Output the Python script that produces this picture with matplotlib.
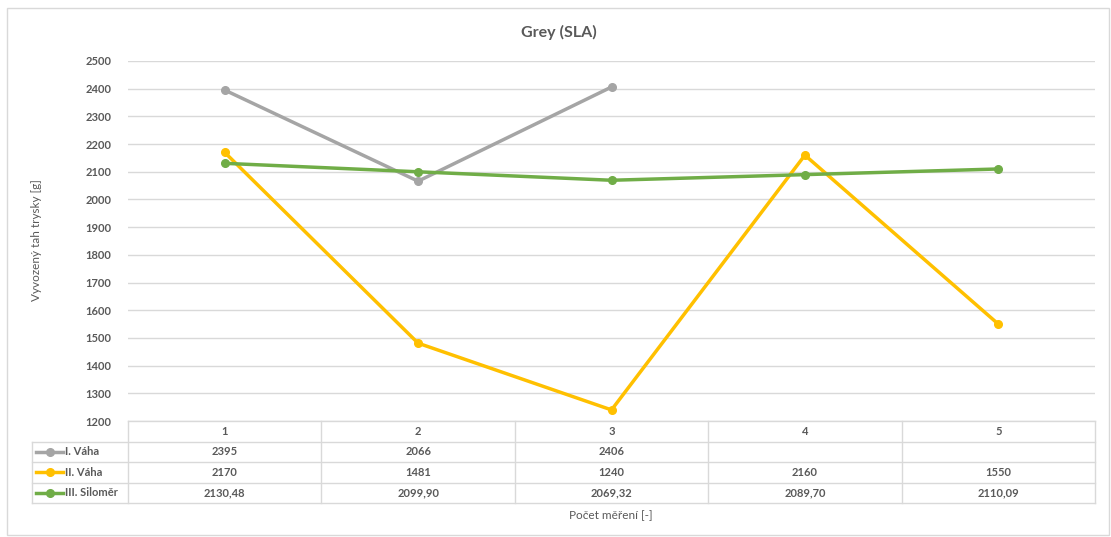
import numpy as np
import matplotlib
matplotlib.use("Agg")
import matplotlib.pyplot as plt
from matplotlib.patches import Rectangle
from matplotlib.lines import Line2D

plt.rcParams['font.family'] = ['Lato', 'DejaVu Sans']

# measurement number on the x axis
mereni = [1, 2, 3, 4, 5]
vaha1 = [2395, 2066, 2406, None, None]
vaha2 = [2170, 1481, 1240, 2160, 1550]
silomer = [2130.48, 2099.90, 2069.32, 2089.70, 2110.09]

names = ['I. Váha', 'II. Váha', 'III. Siloměr']
colors = ['#A5A5A5', '#FFC000', '#70AD47']
series = [vaha1, vaha2, silomer]
fmts = ['{:.0f}', '{:.0f}', '{:.2f}']

txt = '#595959'
grid = '#D9D9D9'
W, H = 1111, 537

fig = plt.figure(figsize=(W / 100, H / 100), dpi=100)

def px(x0, y0, x1, y1):
    return [x0 / W, 1 - y1 / H, (x1 - x0) / W, (y1 - y0) / H]

# chart border
fig.add_artist(Rectangle((7 / W, 1 - 535 / H), 1102 / W, 527 / H,
                         transform=fig.transFigure, fill=False,
                         edgecolor='#D9D9D9', lw=1))

ax = fig.add_axes(px(128, 61, 1095, 421))
for s, c, n in zip(series, colors, names):
    y = np.array([np.nan if v is None else v for v in s], dtype=float)
    ax.plot(mereni, y, color=c, lw=2.5, marker='o', ms=5.5, label=n,
            solid_capstyle='round', zorder=3)

ax.set_xlim(0.5, 5.5)
ax.set_ylim(1200, 2500)
ax.set_yticks(np.arange(1200, 2501, 100))
ax.yaxis.grid(True, color=grid, lw=1)
ax.set_axisbelow(True)
ax.set_xticks([])
for sp in ax.spines.values():
    sp.set_visible(False)
ax.tick_params(axis='y', length=0, pad=12, labelsize=8, labelcolor=txt)
for lb in ax.get_yticklabels():
    lb.set_fontweight('bold')

fig.text(559 / W, 1 - 32 / H, 'Grey (SLA)', ha='center', va='center',
         fontsize=11.5, fontweight='bold', color=txt)
fig.text(36 / W, 1 - 240 / H, 'Vyvozený tah trysky [g]', rotation=90,
         ha='center', va='center', fontsize=8.5, color=txt)
fig.text(611 / W, 1 - 516 / H, 'Počet měření [-]', ha='center', va='center',
         fontsize=8.5, color=txt)

# data table below the plot
tax = fig.add_axes(px(128, 421, 1095, 503))
tax.set_xlim(0.5, 5.5)
tax.set_ylim(4, 0)
tax.axis('off')
colw = (1095 - 128) / 5
left = 0.5 - (128 - 32) / colw

kw = dict(color=grid, lw=1, clip_on=False)
tax.plot([0.5, 5.5], [0, 0], **kw)
for r in range(1, 5):
    tax.plot([left, 5.5], [r, r], **kw)
tax.plot([left, left], [1, 4], **kw)
for xb in np.arange(0.5, 5.6, 1):
    tax.plot([xb, xb], [0, 4], **kw)

for m in mereni:
    tax.text(m, 0.5, str(m), ha='center', va='center', fontsize=8,
             fontweight='bold', color=txt)

for r, (s, c, n, f) in enumerate(zip(series, colors, names, fmts), start=1):
    for m, v in zip(mereni, s):
        if v is not None:
            tax.text(m, r + 0.5, f.format(v).replace('.', ','), ha='center',
                     va='center', fontsize=8, fontweight='bold', color=txt)
    x0 = left + 4 / colw
    x1 = left + 31 / colw
    tax.add_line(Line2D([x0, x1], [r + 0.5, r + 0.5], color=c, lw=2.5,
                        clip_on=False))
    tax.plot([(x0 + x1) / 2], [r + 0.5], 'o', color=c, ms=5.5, clip_on=False)
    tax.text(x1 + 2 / colw, r + 0.5, n, ha='left', va='center', fontsize=8,
             fontweight='bold', color=txt)

fig.savefig('out.png', dpi=100, facecolor='white')
